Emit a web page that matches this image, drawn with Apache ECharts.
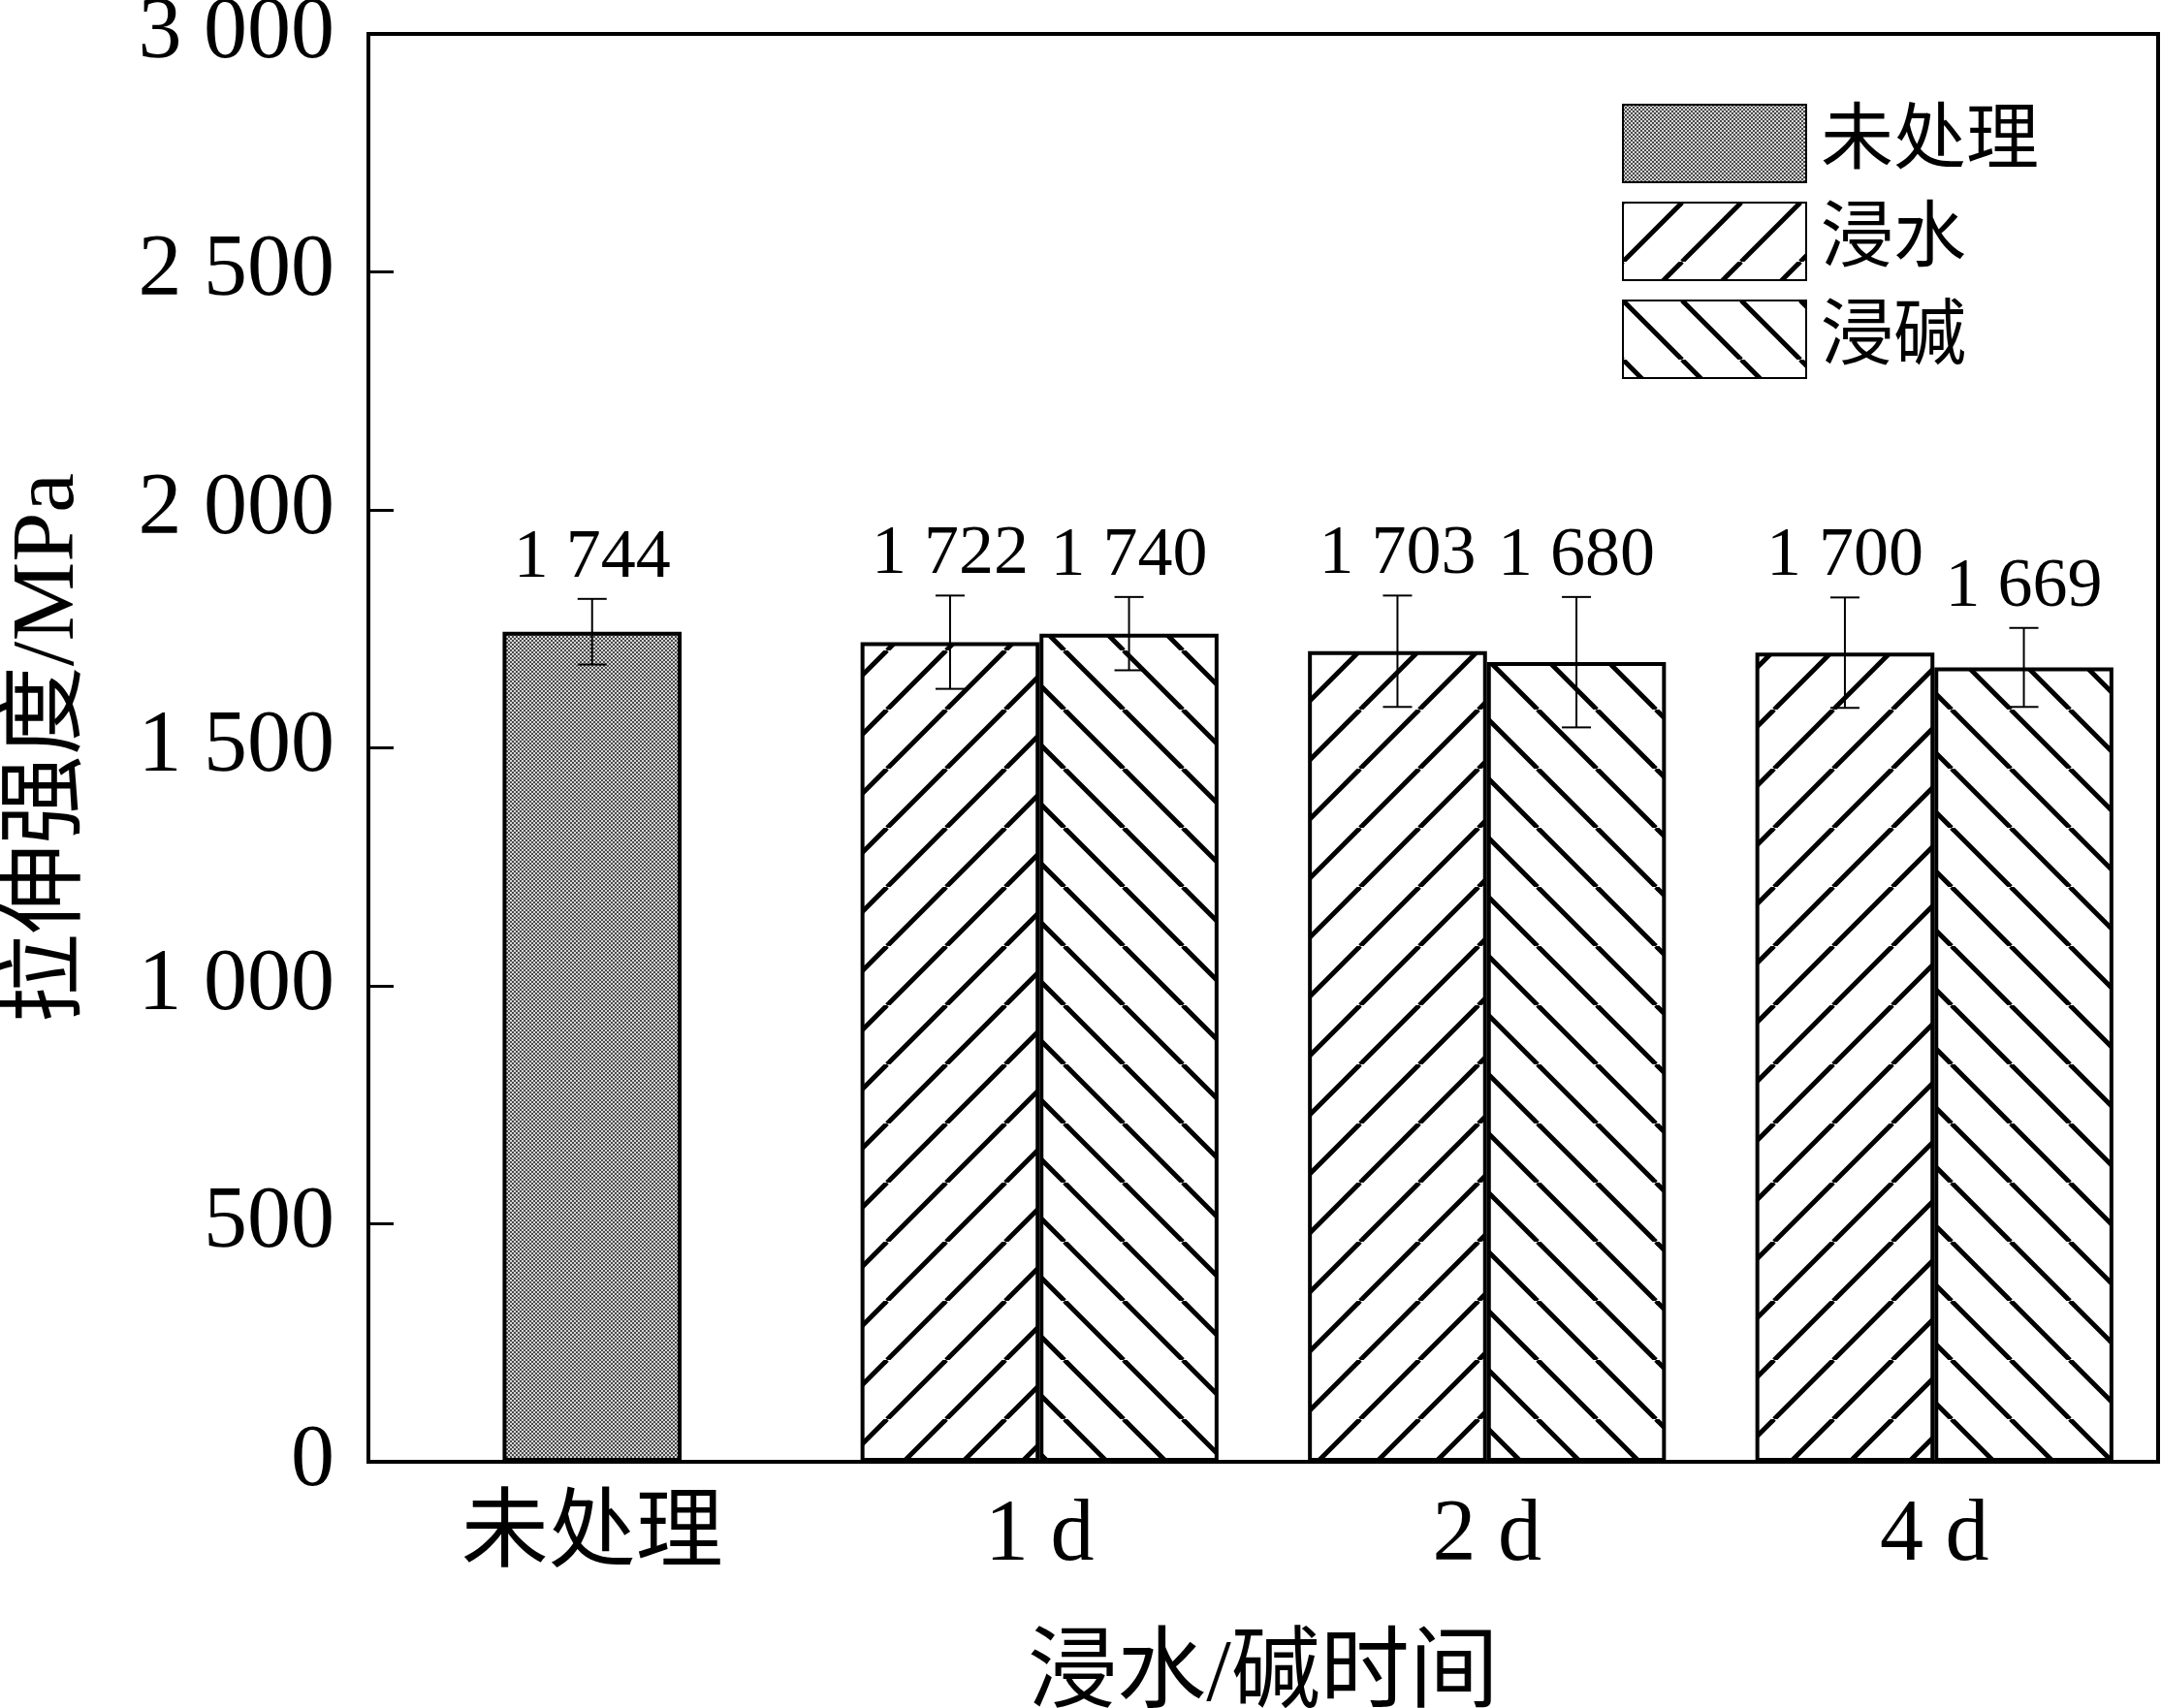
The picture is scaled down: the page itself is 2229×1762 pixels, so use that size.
<!DOCTYPE html>
<html><head><meta charset="utf-8">
<script src="https://cdn.jsdelivr.net/npm/echarts@6/dist/echarts.min.js"></script>
<style>html,body{margin:0;padding:0;background:#fff}#c{width:2229px;height:1762px}</style>
</head><body><div id="c"></div>
<script>
const categories = ['未处理', '1 d', '2 d', '4 d'];
const untreated = [1744, null, null, null];
const water = [null, 1722, 1703, 1700];
const alkali = [null, 1740, 1680, 1669];
const untreatedErr = [69, null, null, null];
const waterErr = [null, 98, 117, 116];
const alkaliErr = [null, 77, 137, 83];
const seriesNames = ['未处理', '浸水', '浸碱'];
const yMin = 0, yMax = 3000, yStep = 500;

const FONT = '"Liberation Serif", "Times New Roman", "Noto Sans CJK SC", serif';

function fmt(v) {
  return v >= 1000 ? Math.floor(v / 1000) + ' ' + String(v % 1000).padStart(3, '0') : String(v);
}
function checker() {
  const c = document.createElement('canvas'); c.width = 4; c.height = 4;
  const g = c.getContext('2d');
  g.fillStyle = '#d6d6d6'; g.fillRect(0, 0, 4, 4);
  g.fillStyle = '#4a4a4a'; g.fillRect(0, 0, 2, 2); g.fillRect(2, 2, 2, 2);
  return c;
}
function hatch(dir) {
  const s = 61;
  const c = document.createElement('canvas'); c.width = s; c.height = s;
  const g = c.getContext('2d');
  g.fillStyle = '#fff'; g.fillRect(0, 0, s, s);
  g.strokeStyle = '#000'; g.lineWidth = 5;
  for (let k = -1; k <= 1; k++) {
    g.beginPath();
    if (dir === '/') { g.moveTo(k * s, s); g.lineTo(k * s + s, 0); }
    else { g.moveTo(k * s, 0); g.lineTo(k * s + s, s); }
    g.stroke();
  }
  return c;
}
const fills = [
  { image: checker(), repeat: 'repeat' },
  { image: hatch('/'), repeat: 'repeat' },
  { image: hatch('\\'), repeat: 'repeat' }
];

function errSeries(vals, errs, offFrac, axisIdx) {
  const data = [];
  vals.forEach((v, i) => { if (v != null) data.push([i, v, errs[i]]); });
  return {
    type: 'custom', xAxisIndex: axisIdx, z: 10, silent: true,
    data: data,
    encode: { x: 0, y: [1] },
    renderItem: function (params, api) {
      const i = api.value(0), v = api.value(1), e = api.value(2);
      const band = api.size([1, 0])[0];
      const off = offFrac * band;
      const pt = api.coord([i, v + e]);
      const pb = api.coord([i, v - e]);
      const x = pt[0] + off;
      const cw = 15;
      const ls = { stroke: '#000', lineWidth: 2 };
      return {
        type: 'group',
        children: [
          { type: 'line', shape: { x1: x, y1: pt[1], x2: x, y2: pb[1] }, style: ls },
          { type: 'line', shape: { x1: x - cw, y1: pt[1], x2: x + cw, y2: pt[1] }, style: ls },
          { type: 'line', shape: { x1: x - cw, y1: pb[1], x2: x + cw, y2: pb[1] }, style: ls },
          { type: 'text', style: { text: fmt(v), x: x, y: pt[1] - 42, align: 'center', verticalAlign: 'middle',
              fontSize: 72, fontFamily: FONT, fill: '#000' } }
        ]
      };
    }
  };
}

const barStyle = (i) => ({ color: fills[i], borderColor: '#000', borderWidth: 4 });

const option = {
  animation: false,
  backgroundColor: '#fff',
  grid: { left: 380, right: 3, top: 35, bottom: 254, show: true, borderColor: '#000', borderWidth: 4,
          containLabel: false, outerBoundsMode: 'none' },
  legend: {
    orient: 'vertical', left: 1673, top: 107, padding: 0, itemWidth: 189, itemHeight: 80, itemGap: 19,
    icon: 'rect', data: seriesNames,
    textStyle: { fontSize: 75, fontFamily: FONT, color: '#000', padding: [0, 0, 0, 10] }
  },
  xAxis: [
    { type: 'category', data: categories, axisLine: { lineStyle: { color: '#000', width: 4 } },
      axisTick: { show: false },
      axisLabel: { fontSize: 90, fontFamily: FONT, color: '#000', margin: 32 },
      name: '浸水/碱时间', nameLocation: 'middle', nameGap: 176,
      nameTextStyle: { fontSize: 92, fontFamily: FONT, color: '#000' } },
    { type: 'category', data: categories, show: false }
  ],
  yAxis: {
    type: 'value', min: yMin, max: yMax, interval: yStep,
    axisLine: { show: true, lineStyle: { color: '#000', width: 4 } },
    axisTick: { show: true, inside: true, length: 26, lineStyle: { color: '#000', width: 3 } },
    splitLine: { show: false },
    axisLabel: { fontSize: 90, fontFamily: FONT, color: '#000', margin: 35, formatter: fmt },
    name: '拉伸强度/MPa', nameLocation: 'middle', nameGap: 283,
    nameTextStyle: { fontSize: 92, fontFamily: FONT, color: '#000' }
  },
  series: [
    { name: seriesNames[0], type: 'bar', xAxisIndex: 0, data: untreated, barWidth: '40%', itemStyle: barStyle(0) },
    { name: seriesNames[1], type: 'bar', xAxisIndex: 1, data: water, barWidth: '40%', barGap: '0%', itemStyle: barStyle(1) },
    { name: seriesNames[2], type: 'bar', xAxisIndex: 1, data: alkali, barWidth: '40%', barGap: '0%', itemStyle: barStyle(2) },
    errSeries(untreated, untreatedErr, 0, 0),
    errSeries(water, waterErr, -0.2, 0),
    errSeries(alkali, alkaliErr, 0.2, 0)
  ]
};
const chart = echarts.init(document.getElementById('c'), null, { renderer: 'canvas' });
chart.setOption(option);
</script>
</body></html>
